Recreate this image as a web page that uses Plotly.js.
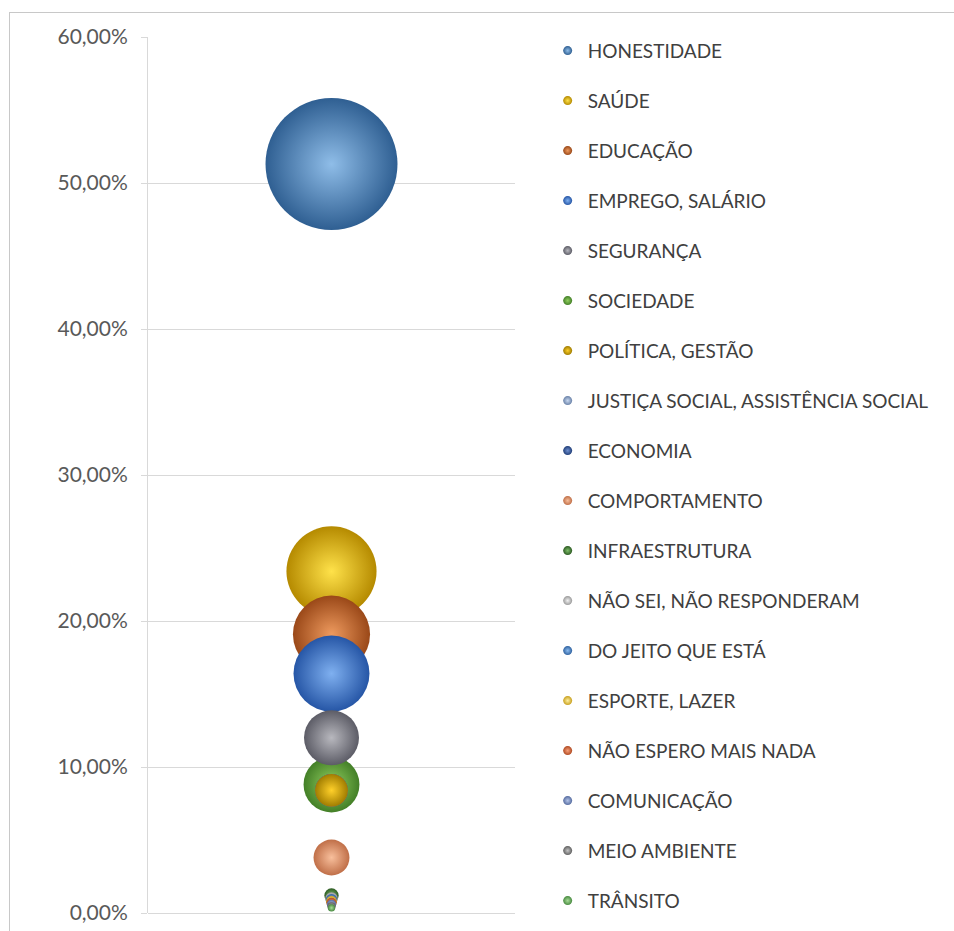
<!DOCTYPE html>
<html>
<head>
<meta charset="utf-8">
<script src="https://cdn.plot.ly/plotly-3.0.1.min.js"></script>
<style>
  html, body { margin: 0; padding: 0; background: #ffffff; }
  #wrap { position: relative; width: 954px; height: 931px; overflow: hidden; }
  #chart { position: absolute; left: 0; top: 0; width: 954px; height: 931px; }
  #frame { position: absolute; left: 9px; top: 12px; width: 960px; height: 940px;
           border-left: 1px solid #c8c8c8; border-top: 1px solid #c8c8c8; pointer-events: none; }
</style>
</head>
<body>
<div id="wrap"><div id="chart"></div><div id="frame"></div></div>
<script>
// ---- data ----
const categories = [
  "HONESTIDADE", "SAÚDE", "EDUCAÇÃO", "EMPREGO, SALÁRIO", "SEGURANÇA", "SOCIEDADE",
  "POLÍTICA, GESTÃO", "JUSTIÇA SOCIAL, ASSISTÊNCIA SOCIAL", "ECONOMIA", "COMPORTAMENTO",
  "INFRAESTRUTURA", "NÃO SEI, NÃO RESPONDERAM", "DO JEITO QUE ESTÁ", "ESPORTE, LAZER",
  "NÃO ESPERO MAIS NADA", "COMUNICAÇÃO", "MEIO AMBIENTE", "TRÂNSITO"
];
// percentage of answers (y position)
const percentValues = [51.3, 23.4, 19.1, 16.4, 12.0, 8.8, 8.4, 8.4, 8.4, 3.8,
                       1.2, 1.0, 0.9, 0.8, 0.7, 0.6, 0.45, 0.35];
// bubble size (third dimension of the bubble chart)
const bubbleSizes = [51.3, 23.9, 17.5, 17.0, 8.9, 9.2, 3.2, 3.2, 3.2, 3.8,
                     0.6, 0.45, 0.4, 0.35, 0.3, 0.25, 0.2, 0.15];
const xPosition = 1;
const yTickValues = [0, 0.1, 0.2, 0.3, 0.4, 0.5, 0.6];

// ---- styles ----
const lightColors = ["#8fbde8", "#ffe24a", "#ee9a5e", "#7fb0f0", "#b8b8be", "#92d060",
                     "#ffd02a", "#c8d8f0", "#6f8fcf", "#f8bf9c", "#7fbf6a", "#f2f2f2",
                     "#8cbcf0", "#fff0a0", "#f8a07a", "#b4c4e8", "#c4c4c4", "#a8dc98"];
const darkColors = ["#2f5f92", "#b58a00", "#9a4818", "#2656a6", "#5c5c66", "#437f27",
                    "#a07c00", "#6a82a8", "#203e78", "#c06f48", "#2c5a22", "#9a9a9a",
                    "#2f62a0", "#c8a020", "#b04a22", "#566ca0", "#606060", "#488a40"];

const maxDiameter = 132;
const sizeref = 2 * Math.max(...bubbleSizes) / (maxDiameter * maxDiameter);

const order = categories.map((c, i) => i)
  .sort((a, b) => (bubbleSizes[b] - bubbleSizes[a]) || (b - a));

const traces = [];
order.forEach(i => {
  traces.push({
    type: "scatter", mode: "markers",
    x: [xPosition], y: [percentValues[i] / 100],
    name: categories[i], showlegend: false, cliponaxis: false,
    hoverinfo: "name+y",
    marker: {
      size: [bubbleSizes[i]], sizemode: "area", sizeref: sizeref, opacity: 1,
      color: darkColors[i],
      gradient: { type: "radial", color: lightColors[i] },
      line: { width: 0 }
    }
  });
});
// legend entries (one per category, in the reference order)
categories.forEach((c, i) => {
  traces.push({
    type: "scatter", mode: "markers",
    x: [null], y: [null], name: c, legendgroup: c, legendrank: i + 1,
    showlegend: true, hoverinfo: "skip",
    marker: { size: 9, color: darkColors[i], opacity: 1,
              gradient: { type: "radial", color: lightColors[i] }, line: { width: 0 } }
  });
});

const layout = {
  width: 954, height: 931,
  margin: { l: 148, r: 439, t: 37, b: 18, pad: 0 },
  paper_bgcolor: "#ffffff", plot_bgcolor: "#ffffff",
  separators: ",.",
  showlegend: true,
  font: { family: "Lato, 'Open Sans', sans-serif", color: "#404040" },
  xaxis: { range: [0, 2], showgrid: false, zeroline: false, showline: false,
           showticklabels: false, ticks: "", fixedrange: true },
  yaxis: { range: [0, 0.6], tickvals: yTickValues, tickformat: ".2%",
           showgrid: true, gridcolor: "#d9d9d9", gridwidth: 1,
           zeroline: true, zerolinecolor: "#d9d9d9", zerolinewidth: 1,
           showline: true, linecolor: "#d9d9d9", linewidth: 1,
           ticks: "outside", ticklen: 6, tickcolor: "#d9d9d9",
           tickfont: { family: "Lato, 'Open Sans', sans-serif", size: 21, color: "#595959" },
           ticklabelstandoff: 9, fixedrange: true },
  legend: {
    x: 1.089, xanchor: "left", y: 1.006, yanchor: "top",
    traceorder: "grouped", tracegroupgap: 22.3, maxheight: 931,
    itemclick: false, itemdoubleclick: false,
    font: { family: "Lato, 'Open Sans', sans-serif", size: 19, color: "#404040" },
    bgcolor: "rgba(0,0,0,0)", borderwidth: 0
  }
};

Plotly.newPlot("chart", traces, layout, { displayModeBar: false, staticPlot: true });
</script>
</body>
</html>
